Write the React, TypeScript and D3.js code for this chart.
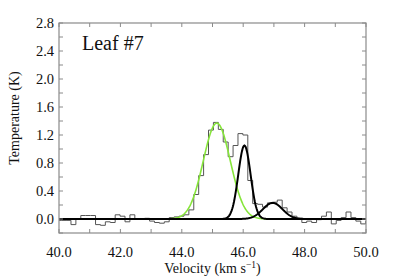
import { useRef, useEffect } from "react";
import * as d3 from "d3";

// spectrum channels: first edge and width (km/s), brightness temperature (K)
const CHAN_START = 39.91;
const CHAN_WIDTH = 0.16;
const temps = [
  -0.02, -0.02, -0.02, -0.08, 0.0, 0.05, 0.05, 0.05, -0.08, -0.09,
  -0.04, -0.05, 0.06, 0.04, -0.04, 0.06, 0.0, 0.0, 0.01, -0.03,
  -0.05, -0.06, -0.04, 0.02, 0.03, 0.04, 0.06, 0.13, 0.35, 0.62,
  0.92, 1.27, 1.38, 1.28, 1.1, 0.89, 1.05, 1.22, 1.2, 0.55,
  0.22, 0.21, 0.17, 0.23, 0.24, 0.27, 0.16, 0.1, 0.04, 0.01,
  -0.05, -0.03, -0.05, -0.01, 0.04, 0.1, -0.07, -0.02, 0.02, 0.1,
  0.02, -0.03, -0.07, -0.03,
];

// gaussian fit components: amplitude (K), centre (km/s), sigma (km/s)
const fitAmp = [1.37, 1.05, 0.23];
const fitCenter = [45.14, 46.04, 46.96];
const fitSigma = [0.44, 0.2, 0.32];
const fitColor = ["#86e53a", "#000000", "#000000"];

const xTicks = [40, 42, 44, 46, 48, 50];
const yTicks = [0, 0.4, 0.8, 1.2, 1.6, 2.0, 2.4, 2.8];

const W = 395;
const H = 280;
const M = { top: 23, right: 29, bottom: 47, left: 59 };
const FONT = "'Liberation Serif', 'Times New Roman', serif";

export default function App() {
  const svgRef = useRef<SVGSVGElement>(null);

  useEffect(() => {
    if (!svgRef.current) return;
    const svg = d3.select(svgRef.current);
    svg.selectAll("*").remove();

    const innerW = W - M.left - M.right;
    const innerH = H - M.top - M.bottom;
    const x = d3.scaleLinear().domain([40, 50]).range([0, innerW]);
    const y = d3.scaleLinear().domain([-0.2, 2.8]).range([innerH, 0]);

    svg.append("defs").append("clipPath").attr("id", "plot-clip")
      .append("rect").attr("width", innerW).attr("height", innerH);

    const g = svg.append("g").attr("transform", `translate(${M.left},${M.top})`);
    const plot = g.append("g").attr("clip-path", "url(#plot-clip)");

    // histogram spectrum
    const steps = temps.map((t, i) => ({ v: CHAN_START + i * CHAN_WIDTH, t }));
    steps.push({ v: CHAN_START + temps.length * CHAN_WIDTH, t: temps[temps.length - 1] });
    plot.append("path")
      .datum(steps)
      .attr("d", d3.line<{ v: number; t: number }>().x((d) => x(d.v)).y((d) => y(d.t)).curve(d3.curveStepAfter))
      .attr("fill", "none")
      .attr("stroke", "#555")
      .attr("stroke-width", 1);

    // fit components
    const vs = d3.range(40, 50.001, 0.02);
    fitAmp.forEach((a, k) => {
      const pts = vs.map((v) => [v, a * Math.exp(-0.5 * ((v - fitCenter[k]) / fitSigma[k]) ** 2)] as [number, number]);
      plot.append("path")
        .datum(pts)
        .attr("d", d3.line().x((d) => x(d[0])).y((d) => y(d[1])))
        .attr("fill", "none")
        .attr("stroke", fitColor[k])
        .attr("stroke-width", k === 0 ? 1.6 : 2);
    });

    // frame
    g.append("rect")
      .attr("width", innerW).attr("height", innerH)
      .attr("fill", "none").attr("stroke", "#8a8a8a").attr("stroke-width", 1.2);

    // inward ticks on all four sides
    const tickCol = "#8a8a8a";
    d3.range(40, 50.001, 1).forEach((v) => {
      const len = 4;
      g.append("line").attr("x1", x(v)).attr("x2", x(v)).attr("y1", innerH).attr("y2", innerH - len).attr("stroke", tickCol);
      g.append("line").attr("x1", x(v)).attr("x2", x(v)).attr("y1", 0).attr("y2", len).attr("stroke", tickCol);
    });
    d3.range(-0.2, 2.801, 0.2).forEach((t) => {
      const len = 4;
      g.append("line").attr("x1", 0).attr("x2", len).attr("y1", y(t)).attr("y2", y(t)).attr("stroke", tickCol);
      g.append("line").attr("x1", innerW).attr("x2", innerW - len).attr("y1", y(t)).attr("y2", y(t)).attr("stroke", tickCol);
    });

    // tick labels
    g.selectAll(".xl").data(xTicks).enter().append("text")
      .attr("x", (d) => x(d)).attr("y", innerH + 24)
      .attr("text-anchor", "middle")
      .style("font-family", FONT).style("font-size", "14.5px").attr("fill", "#111")
      .text((d) => d.toFixed(1));
    g.selectAll(".yl").data(yTicks).enter().append("text")
      .attr("x", -5).attr("y", (d) => y(d)).attr("dy", "0.35em")
      .attr("text-anchor", "end")
      .style("font-family", FONT).style("font-size", "14.5px").attr("fill", "#111")
      .text((d) => d.toFixed(1));

    // axis titles
    const xt = g.append("text")
      .attr("x", innerW / 2).attr("y", innerH + 40)
      .attr("text-anchor", "middle")
      .style("font-family", FONT).style("font-size", "14px").attr("fill", "#111");
    xt.append("tspan").text("Velocity (km s");
    xt.append("tspan").style("font-size", "9.5px").attr("dy", -5).text("−1");
    xt.append("tspan").attr("dy", 5).text(")");

    g.append("text")
      .attr("transform", "rotate(-90)")
      .attr("x", -(118 - M.top)).attr("y", -40)
      .attr("text-anchor", "middle")
      .style("font-family", FONT).style("font-size", "14px").attr("fill", "#111")
      .text("Temperature (K)");

    g.append("text")
      .attr("x", 23).attr("y", 27)
      .style("font-family", FONT).style("font-size", "20px").attr("fill", "#111")
      .text("Leaf #7");
  }, []);

  return <svg ref={svgRef} width={W} height={H} style={{ position: "absolute", left: 0, top: 0 }} />;
}
